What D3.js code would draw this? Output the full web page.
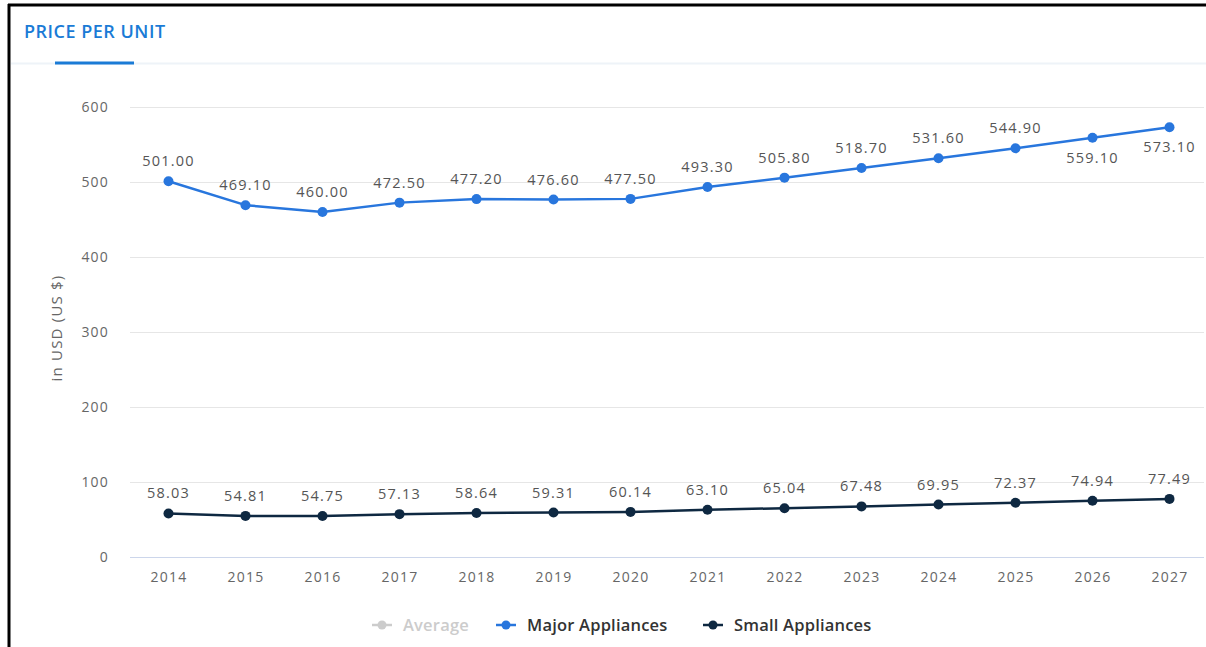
<!DOCTYPE html>
<html>
<head>
<meta charset="utf-8">
<script src="https://cdn.jsdelivr.net/npm/d3@7"></script>
<style>
  html, body { margin: 0; padding: 0; background: #fff; }
  body { width: 1206px; height: 647px; overflow: hidden; font-family: "Open Sans", sans-serif; }
</style>
</head>
<body>
<div class="canvas"></div>
<script>
const years = ['2014', '2015', '2016', '2017', '2018', '2019', '2020', '2021', '2022', '2023', '2024', '2025', '2026', '2027'];
const majorAppliances = [501.00, 469.10, 460.00, 472.50, 477.20, 476.60, 477.50, 493.30, 505.80, 518.70, 531.60, 544.90, 559.10, 573.10];
const smallAppliances = [58.03, 54.81, 54.75, 57.13, 58.64, 59.31, 60.14, 63.10, 65.04, 67.48, 69.95, 72.37, 74.94, 77.49];
const majorLabelsBelow = ['2026', '2027'];
const yTicks = [0, 100, 200, 300, 400, 500, 600];
const legendItems = [
  { name: 'Average', color: '#cccccc', text: '#cccccc' },
  { name: 'Major Appliances', color: '#2876dd', text: '#333333' },
  { name: 'Small Appliances', color: '#0e2841', text: '#333333' }
];

const width = 1206;
const height = 647;

const svg = d3.select('.canvas')
  .append('svg')
  .attr('width', width)
  .attr('height', height);

// frame
svg.append('line').attr('x1', 9).attr('x2', 9).attr('y1', 4).attr('y2', height)
  .attr('stroke', '#000').attr('stroke-width', 3);
svg.append('line').attr('x1', 8).attr('x2', width).attr('y1', 5).attr('y2', 5)
  .attr('stroke', '#000').attr('stroke-width', 3);

// title
svg.append('text')
  .attr('x', 24).attr('y', 38)
  .attr('fill', '#1a7bd6')
  .style('font-size', '18px')
  .style('font-weight', 600)
  .style('letter-spacing', '0.5px')
  .text('PRICE PER UNIT');
svg.append('line').attr('x1', 11).attr('x2', width).attr('y1', 63.5).attr('y2', 63.5)
  .attr('stroke', '#eef3f8').attr('stroke-width', 2);
svg.append('line').attr('x1', 55).attr('x2', 134).attr('y1', 63).attr('y2', 63)
  .attr('stroke', '#1a7bd6').attr('stroke-width', 3);

const x = d3.scalePoint().domain(years).range([130, 1208]).padding(0.5);
const y = d3.scaleLinear().domain([0, 600]).range([557, 107]);

const graph = svg.append('g');

// grid
graph.append('g').selectAll('line')
  .data(yTicks.filter(d => d > 0))
  .enter().append('line')
  .attr('x1', 130).attr('x2', 1204)
  .attr('y1', d => y(d) + 0.5).attr('y2', d => y(d) + 0.5)
  .attr('stroke', '#e6e6e6').attr('stroke-width', 1);

// y axis
const yAxis = d3.axisLeft(y).tickValues(yTicks).tickSize(0).tickPadding(0);
const yAxisGroup = graph.append('g').attr('transform', 'translate(109, 0)').call(yAxis);
yAxisGroup.select('.domain').remove();
yAxisGroup.selectAll('text')
  .attr('fill', '#666').style('font-size', '14px').style('letter-spacing', '1.2px')
  .style('font-family', '"Open Sans", sans-serif')
  .attr('dy', '0.35em');

// x axis
const xAxis = d3.axisBottom(x).tickSize(0).tickPadding(15);
const xAxisGroup = graph.append('g').attr('transform', `translate(0, ${y(0)})`).call(xAxis);
xAxisGroup.select('.domain')
  .attr('d', 'M130,0.5H1204')
  .attr('stroke', '#ccd6eb');
xAxisGroup.selectAll('text')
  .attr('fill', '#666').style('font-size', '14px').style('letter-spacing', '1.3px')
  .style('font-family', '"Open Sans", sans-serif');

// axis title
svg.append('text')
  .attr('transform', 'translate(62, 328) rotate(-90)')
  .attr('text-anchor', 'middle')
  .attr('fill', '#666')
  .style('font-size', '15px')
  .style('letter-spacing', '1.2px')
  .text('in USD (US $)');

const drawSeries = (values, color, labelBelow) => {
  const data = years.map((yr, i) => ({ year: yr, value: values[i] }));
  const line = d3.line().x(d => x(d.year)).y(d => y(d.value));

  graph.append('path')
    .datum(data)
    .attr('fill', 'none')
    .attr('stroke', color)
    .attr('stroke-width', 2.5)
    .attr('stroke-linejoin', 'round')
    .attr('d', line);

  graph.append('g').selectAll('circle')
    .data(data)
    .enter().append('circle')
    .attr('cx', d => x(d.year))
    .attr('cy', d => y(d.value))
    .attr('r', 5)
    .attr('fill', color);

  graph.append('g').selectAll('text')
    .data(data)
    .enter().append('text')
    .attr('x', d => x(d.year))
    .attr('y', d => labelBelow(d) ? y(d.value) + 25 : y(d.value) - 15)
    .attr('text-anchor', 'middle')
    .attr('fill', '#555')
    .style('font-size', '14.5px')
    .style('letter-spacing', '1.2px')
    .text(d => d.value.toFixed(2));
};

drawSeries(majorAppliances, '#2876dd', d => majorLabelsBelow.includes(d.year));
drawSeries(smallAppliances, '#0e2841', () => false);

// legend
const legendX = [372, 496, 703];
const legend = svg.append('g');
legendItems.forEach((item, i) => {
  const g = legend.append('g').attr('transform', `translate(${legendX[i]}, 625)`);
  g.append('line').attr('x1', 0).attr('x2', 20).attr('y1', 0).attr('y2', 0)
    .attr('stroke', item.color).attr('stroke-width', 2.5);
  g.append('circle').attr('cx', 10).attr('cy', 0).attr('r', 4.5).attr('fill', item.color);
  g.append('text')
    .attr('x', 31).attr('y', 0).attr('dy', '0.35em')
    .attr('fill', item.text)
    .style('font-size', '16.5px')
    .style('font-weight', 600)
    .style('letter-spacing', '0.2px')
    .text(item.name);
});
</script>
</body>
</html>
